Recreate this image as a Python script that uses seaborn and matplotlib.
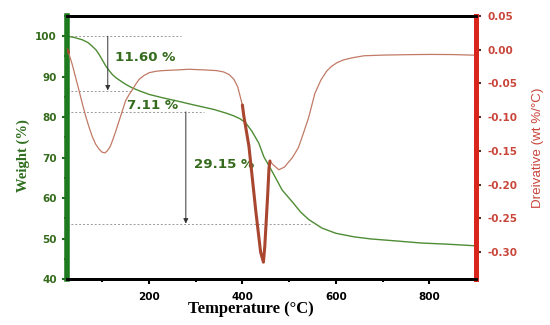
import matplotlib
matplotlib.use("Agg")
import matplotlib.pyplot as plt
import seaborn as sns
import pandas as pd
from matplotlib.ticker import MultipleLocator

# --- data ---
# TG curve (weight %)
tg_temp = [25, 40, 58, 70, 79, 87, 94, 101, 108, 115, 122, 130, 140, 152, 165,
           182, 201, 229, 260, 293, 339, 365, 382, 395, 407, 420, 435, 446, 465,
           485, 508, 525, 542, 570, 600, 640, 675, 730, 782, 840, 900]
tg_weight = [100.0, 99.7, 99.1, 98.4, 97.5, 96.6, 95.4, 94.0, 92.6, 91.5, 90.5,
             89.7, 88.9, 88.0, 87.2, 86.4, 85.6, 84.8, 84.0, 83.1, 81.9, 81.0,
             80.3, 79.6, 78.6, 76.6, 73.6, 70.2, 66.3, 62.0, 58.9, 56.5, 54.7,
             52.6, 51.3, 50.4, 49.9, 49.4, 48.9, 48.6, 48.2]

# DTG curve (wt %/°C)
dtg_temp = [25, 28, 36, 47, 58, 65, 72, 79, 86, 93, 100, 106, 111, 117, 122,
            129, 136, 143, 150, 158, 165, 172, 179, 190, 201, 215, 229, 260, 286,
            320, 345, 360, 372, 382, 390, 400, 403, 414, 429, 439, 445, 448, 454,
            457, 459, 465, 478, 490, 507, 520, 530, 542, 555, 568, 580, 590, 603,
            617, 635, 660, 700, 733, 770, 804, 850, 890, 900]
dtg_value = [0.000, -0.004, -0.022, -0.051, -0.081, -0.099, -0.115, -0.129,
             -0.140, -0.147, -0.152, -0.153, -0.150, -0.144, -0.135, -0.121,
             -0.106, -0.091, -0.076, -0.066, -0.059, -0.051, -0.044, -0.038,
             -0.034, -0.032, -0.031, -0.030, -0.029, -0.030, -0.031, -0.033,
             -0.037, -0.044, -0.055, -0.082, -0.098, -0.143, -0.241, -0.300,
             -0.315, -0.291, -0.217, -0.175, -0.165, -0.170, -0.178, -0.174,
             -0.160, -0.145, -0.125, -0.100, -0.065, -0.045, -0.032, -0.025,
             -0.019, -0.015, -0.012, -0.009, -0.008, -0.0076, -0.0072, -0.007,
             -0.0072, -0.008, -0.008]

# main degradation peak, drawn heavier
peak_lo, peak_hi = 400, 459

# step annotations
step_labels = ["11.60 %", "7.11 %", "29.15 %"]
step_text_x = [128, 154, 296]
step_text_y = [94.8, 82.8, 68.3]
arrow_x = [112, 279]
arrow_from = [100.0, 81.3]
arrow_to = [86.6, 53.7]
guide_levels = [100.0, 86.5, 81.3, 53.7]
guide_ends = [268, 167, 317, 546]

tg_color = "#4e8c34"
dtg_color = "#c27a66"
peak_color = "#a9462f"
green_txt = "#356b1c"
red_txt = "#c9453a"

sns.set_style("ticks")
plt.rcParams["axes.unicode_minus"] = False
plt.rcParams["font.family"] = ["DejaVu Sans"]

fig = plt.figure(figsize=(5.5, 3.25), dpi=100)
ax1 = fig.add_axes([0.122, 0.1415, 0.7436, 0.8093])
ax2 = ax1.twinx()

# guide lines and arrows
for lvl, end in zip(guide_levels, guide_ends):
    ax1.plot([25, end], [lvl, lvl], ls=(0, (2, 2)), color="#9a9a9a", lw=0.7)
for x, y0, y1 in zip(arrow_x, arrow_from, arrow_to):
    ax1.annotate("", xy=(x, y1), xytext=(x, y0),
                 arrowprops=dict(arrowstyle="-|>", color="#333333", lw=0.7,
                                 mutation_scale=7, shrinkA=0, shrinkB=0))

tg = pd.DataFrame({"T": tg_temp, "W": tg_weight})
sns.lineplot(data=tg, x="T", y="W", ax=ax1, color=tg_color, lw=1.0,
             estimator=None, sort=False)

dtg = pd.DataFrame({"T": dtg_temp, "D": dtg_value})
sns.lineplot(data=dtg, x="T", y="D", ax=ax2, color=dtg_color, lw=0.9,
             estimator=None, sort=False)
peak = dtg[(dtg["T"] >= peak_lo) & (dtg["T"] <= peak_hi)]
sns.lineplot(data=peak, x="T", y="D", ax=ax2, color=peak_color, lw=2.2,
             estimator=None, sort=False)
start = dtg[dtg["T"] <= 28]
sns.lineplot(data=start, x="T", y="D", ax=ax2, color=peak_color, lw=2.2,
             estimator=None, sort=False)

for txt, x, y in zip(step_labels, step_text_x, step_text_y):
    ax1.text(x, y, txt, color=green_txt, fontsize=9.6, fontweight="bold",
             ha="left", va="center")

# axes ranges / ticks
ax1.set_xlim(25, 900)
ax1.set_ylim(40, 105)
ax2.set_ylim(-0.34, 0.05)
ax1.set_xticks([200, 400, 600, 800])
ax1.xaxis.set_minor_locator(MultipleLocator(100))
ax1.set_yticks([40, 50, 60, 70, 80, 90, 100])
ax1.yaxis.set_minor_locator(MultipleLocator(5))
ax2.set_yticks([-0.30, -0.25, -0.20, -0.15, -0.10, -0.05, 0.0, 0.05])
ax2.set_yticklabels(["-0.30", "-0.25", "-0.20", "-0.15", "-0.10", "-0.05",
                     "0.00", "0.05"])
ax2.yaxis.set_minor_locator(MultipleLocator(0.025))

ax1.tick_params(axis="x", which="major", length=3.5, width=1.5, colors="black",
                labelsize=7.5, pad=6)
ax1.tick_params(axis="x", which="minor", length=2, width=1.5, colors="black")
ax1.tick_params(axis="y", which="major", length=3.5, width=1.5, colors="#1e6a1e",
                labelsize=7.5, labelcolor=green_txt, pad=4)
ax1.tick_params(axis="y", which="minor", length=2, width=1.5, colors="#1e6a1e")
ax2.tick_params(axis="y", which="major", length=3.5, width=1.5, colors="#5a2a20",
                labelsize=7.5, labelcolor=red_txt, pad=5)
ax2.tick_params(axis="y", which="minor", length=2, width=1.5, colors="#5a2a20")
for lab in ax1.get_xticklabels() + ax1.get_yticklabels() + ax2.get_yticklabels():
    lab.set_fontweight("bold")

# spines
for ax in (ax1, ax2):
    ax.spines["top"].set_visible(True)
    ax.spines["top"].set_color("black")
    ax.spines["top"].set_linewidth(2.0)
    ax.spines["bottom"].set_color("black")
    ax.spines["bottom"].set_linewidth(2.0)
    ax.spines["left"].set_color("#1e7a1e")
    ax.spines["left"].set_linewidth(4.0)
    ax.spines["right"].set_color("#d9261c")
    ax.spines["right"].set_linewidth(3.5)
ax2.spines["left"].set_visible(False)

ax1.set_xlabel("Temperature (°C)", family="Liberation Serif", fontweight="bold",
               fontsize=12, color="black")
ax1.xaxis.set_label_coords(0.45, -0.085)
ax1.set_ylabel("Weight (%)", family="Liberation Serif", fontweight="bold",
               fontsize=10.5, color="#2f6e1f")
ax1.yaxis.set_label_coords(-0.09, 0.47)
ax2.set_ylabel("Dreivative (wt %/°C)", family="Liberation Sans", fontsize=9.6,
               color=red_txt)
ax2.yaxis.set_label_coords(1.137, 0.5)

fig.savefig("out.png", dpi=100)
